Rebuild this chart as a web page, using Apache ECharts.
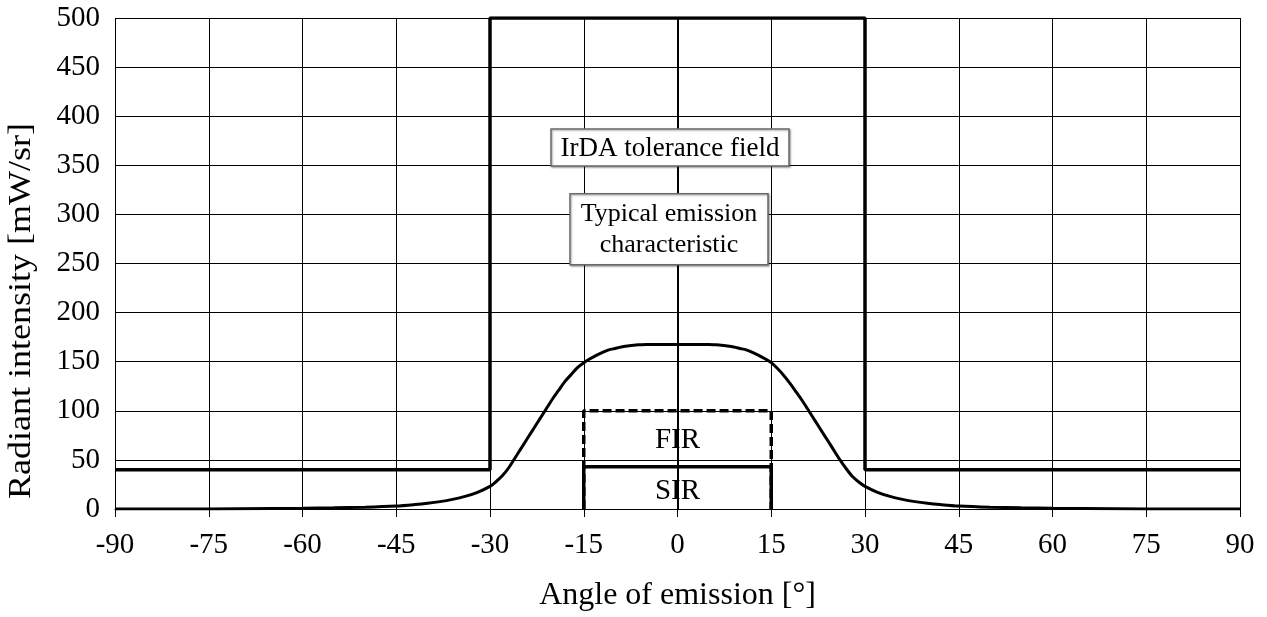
<!DOCTYPE html>
<html>
<head>
<meta charset="utf-8">
<script src="https://cdn.jsdelivr.net/npm/echarts@6/dist/echarts.min.js"></script>
<style>
html,body{margin:0;padding:0;background:#fff;}
#c{width:1267px;height:617px;}
</style>
</head>
<body>
<div id="c"></div>
<script>
// ---- data ----
const xTicks = [-90,-75,-60,-45,-30,-15,0,15,30,45,60,75,90];
const yTicks = [0,50,100,150,200,250,300,350,400,450,500];
// IrDA tolerance field (step outline)
const toleranceField = [[-90,40],[-30,40],[-30,500],[30,500],[30,40],[90,40]];
// Typical emission characteristic
const emissionAngle = [-90,-80,-70,-60,-55,-50,-45,-42,-40,-38,-36,-34,-32,-30,-29,-28,-27,-26,-25,-24,-23,-22,-21,-20,-19,-18,-17,-16,-15,-14,-13,-12,-11,-10,-9,-8,-7,-6,-5,0,5,6,7,8,9,10,11,12,13,14,15,16,17,18,19,20,21,22,23,24,25,26,27,28,29,30,32,34,36,38,40,42,45,50,55,60,70,80,90];
const emissionValue = [0,0,0.3,0.8,1.2,1.8,3,4.5,5.8,7.5,9.8,12.8,17,23,28,34,42,52,62,72,82,92,102,112,121,130,137,144,149,153,156.5,159.5,162,163.5,165,166,166.8,167.2,167.5,167.5,167.5,167.2,166.8,166,165,163.5,162,159.5,156.5,153,149,143,136,128,119,110,100,90,80,70,60,50,41,33,27.5,23,17,12.8,9.8,7.5,5.8,4.5,3,1.8,1.2,0.8,0.3,0,0];
// FIR (dashed) and SIR (solid) boxes
const firBox = [[-15,0],[-15,100],[15,100],[15,0]];
const sirBox = [[-15,0],[-15,43],[15,43],[15,0]];
// Annotation texts
const labelTolerance = 'IrDA tolerance field';
const labelTypical = ['Typical emission', 'characteristic'];
const labelFIR = 'FIR';
const labelSIR = 'SIR';
const xName = 'Angle of emission [°]';
const yName = 'Radiant intensity [mW/sr]';

const emission = emissionAngle.map((a,i)=>[a, emissionValue[i]]);
const FONT = '"Liberation Serif", "Times New Roman", serif';

const chart = echarts.init(document.getElementById('c'), null, {renderer:'canvas'});
const lineBase = {type:'line', showSymbol:false, symbol:'none', silent:true, animation:false};
chart.setOption({
  animation:false,
  backgroundColor:'#fff',
  grid:{left:115, right:27, top:18, bottom:108, containLabel:false},
  xAxis:{
    type:'value', min:-90, max:90, interval:15,
    name:xName, nameLocation:'middle', nameGap:71,
    nameTextStyle:{fontFamily:FONT, fontSize:32, color:'#000'},
    axisLine:{show:true, lineStyle:{color:'#000', width:1}},
    axisTick:{show:true, length:8, lineStyle:{color:'#000', width:1}},
    axisLabel:{fontFamily:FONT, fontSize:29, color:'#000', margin:22},
    splitLine:{show:true, lineStyle:{color:'#000', width:1}}
  },
  yAxis:{
    type:'value', min:0, max:500, interval:50,
    axisLine:{show:true, lineStyle:{color:'#000', width:2}},
    axisTick:{show:false},
    axisLabel:{fontFamily:FONT, fontSize:29, color:'#000', margin:15},
    splitLine:{show:true, lineStyle:{color:'#000', width:1}}
  },
  series:[
    Object.assign({}, lineBase, {name:'tolerance', data:toleranceField, lineStyle:{color:'#000', width:3.5}, z:5}),
    Object.assign({}, lineBase, {name:'emission', data:emission, smooth:0.3, lineStyle:{color:'#000', width:3}, z:6}),
    Object.assign({}, lineBase, {name:'FIR', data:firBox, lineStyle:{color:'#000', width:3.5, type:[9,4]}, z:4}),
    Object.assign({}, lineBase, {name:'SIR', data:sirBox, lineStyle:{color:'#000', width:3.5}, z:5})
  ]
});

function px(x,y){ return chart.convertToPixel({gridIndex:0},[x,y]); }
function box(cx, cy, w, h){
  return {type:'rect', shape:{x:cx-w/2, y:cy-h/2, width:w, height:h},
    style:{fill:'#fff', stroke:'#6a6a6a', lineWidth:1.5, shadowColor:'rgba(0,0,0,0.35)', shadowBlur:2, shadowOffsetX:1, shadowOffsetY:1}, z:100};
}
function txt(x, y, t, size){
  return {type:'text', x:x, y:y, style:{text:t, fontFamily:FONT, fontSize:size, fill:'#000', align:'center', verticalAlign:'middle'}, z:101};
}
const pTol = px(-1.2, 368);
const pTyp = px(-1.36, 284.8);
const pFIR = px(0, 70);
const pSIR = px(0, 18);
chart.setOption({graphic:[
  box(pTol[0], pTol[1], 238, 37),
  txt(pTol[0], pTol[1]+1, labelTolerance, 27),
  box(pTyp[0], pTyp[1], 198, 71),
  txt(pTyp[0], pTyp[1]-15, labelTypical[0], 26),
  txt(pTyp[0], pTyp[1]+16, labelTypical[1], 26),
  txt(pFIR[0], pFIR[1], labelFIR, 29),
  txt(pSIR[0], pSIR[1], labelSIR, 29),
  {type:'text', x:22, y:311, rotation:Math.PI/2, scaleY:0.88, style:{text:yName, fontFamily:FONT, fontSize:36, fill:'#000', align:'center', verticalAlign:'middle'}, z:101}
]});
</script>
</body>
</html>
